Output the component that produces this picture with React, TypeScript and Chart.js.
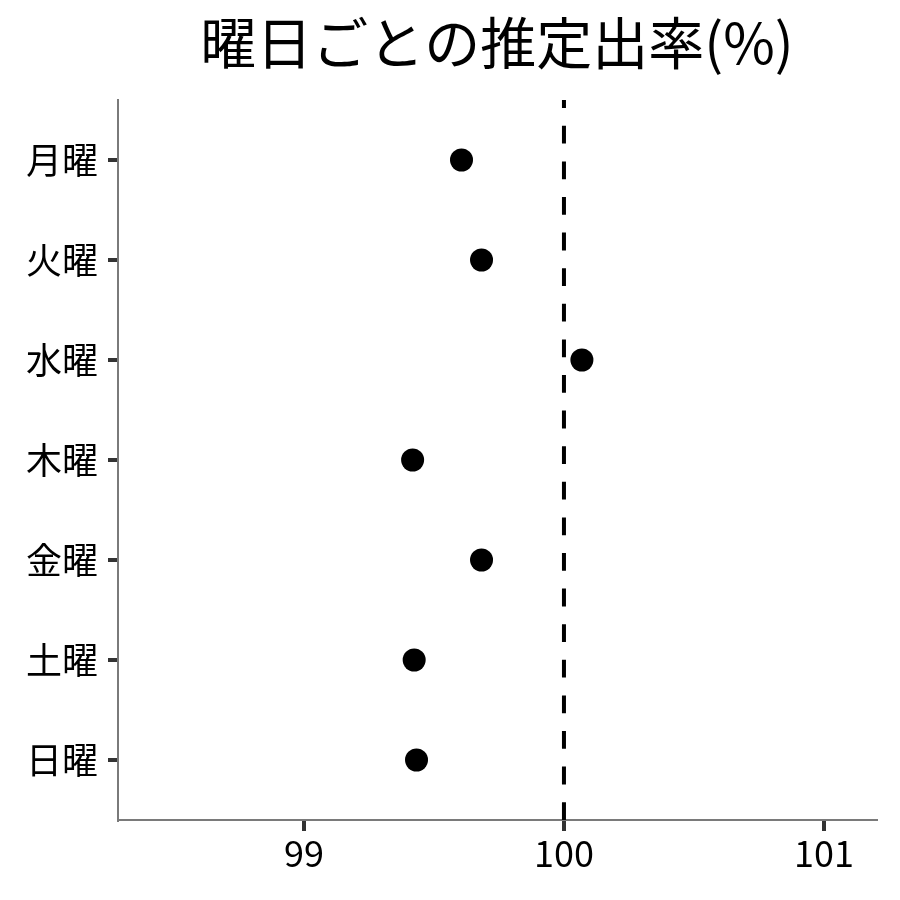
import React, { useEffect, useRef } from "react";
import { Chart, registerables } from "chart.js";

Chart.register(...registerables);

const TITLE = "曜日ごとの推定出率(%)";
const DAYS = ["月曜", "火曜", "水曜", "木曜", "金曜", "土曜", "日曜"];
const RATES = [99.606, 99.683, 100.069, 99.418, 99.683, 99.424, 99.433];
const X_TICKS = [99, 100, 101];
const REF_X = 100;
const X_MIN = 98.285;
const X_MAX = 101.2;
const Y_MIN = -0.6;
const Y_MAX = 6.6;

const FONT = "'Noto Sans CJK JP', 'Noto Sans', sans-serif";

const titlePlugin = {
  id: "centeredTitle",
  afterDraw(chart: any) {
    const { ctx, chartArea } = chart;
    ctx.save();
    ctx.font = `56px ${FONT}`;
    ctx.fillStyle = "#000";
    ctx.textAlign = "center";
    ctx.textBaseline = "middle";
    ctx.fillText(TITLE, (chartArea.left + chartArea.right) / 2, 43);
    ctx.restore();
  },
};

export default function App() {
  const ref = useRef<HTMLCanvasElement | null>(null);

  useEffect(() => {
    document.body.style.margin = "0";
    if (!ref.current) return;
    const points = RATES.map((v, i) => ({ x: v, y: i }));
    const chart = new Chart(ref.current, {
      type: "scatter",
      data: {
        datasets: [
          {
            type: "line",
            data: [
              { x: REF_X, y: Y_MAX },
              { x: REF_X, y: Y_MIN },
            ],
            borderColor: "#000",
            borderWidth: 4,
            borderDash: [17.8, 17.8],
            pointRadius: 0,
            fill: false,
          } as any,
          {
            data: points,
            backgroundColor: "#000",
            borderWidth: 0,
            pointRadius: 11.5,
            pointHoverRadius: 11.5,
          },
        ],
      },
      plugins: [titlePlugin],
      options: {
        animation: false,
        responsive: false,
        maintainAspectRatio: false,
        layout: { padding: { top: 100, right: 24, left: 0, bottom: 0 } },
        plugins: {
          legend: { display: false },
          tooltip: { enabled: false },
          title: { display: false },
        },
        scales: {
          x: {
            type: "linear",
            min: X_MIN,
            max: X_MAX,
            afterBuildTicks: (scale: any) => {
              scale.ticks = X_TICKS.map((v) => ({ value: v }));
            },
            afterFit: (scale: any) => {
              scale.height = 80;
            },
            ticks: {
              font: { family: FONT, size: 36 },
              color: "#000",
              padding: 1,
              autoSkip: false,
              maxRotation: 0,
              callback: (v: any) => String(v),
            },
            grid: {
              drawOnChartArea: false,
              drawTicks: true,
              lineWidth: 4,
              tickLength: 11,
              tickWidth: 4,
              tickColor: "#333",
            },
            border: { display: true, color: "#7a7a7a", width: 2 },
          },
          y: {
            type: "linear",
            reverse: true,
            min: Y_MIN,
            max: Y_MAX,
            afterBuildTicks: (scale: any) => {
              scale.ticks = DAYS.map((_, i) => ({ value: i }));
            },
            afterFit: (scale: any) => {
              scale.width = 118;
            },
            ticks: {
              font: { family: FONT, size: 36 },
              color: "#000",
              padding: 10,
              autoSkip: false,
              callback: (v: any) => DAYS[v] ?? "",
            },
            grid: {
              drawOnChartArea: false,
              drawTicks: true,
              lineWidth: 4,
              tickLength: 10,
              tickWidth: 4,
              tickColor: "#333",
            },
            border: { display: true, color: "#7a7a7a", width: 2 },
          },
        },
      },
    });
    return () => chart.destroy();
  }, []);

  return (
    <div style={{ width: 900, height: 900, background: "#fff" }}>
      <canvas ref={ref} width={900} height={900} />
    </div>
  );
}
